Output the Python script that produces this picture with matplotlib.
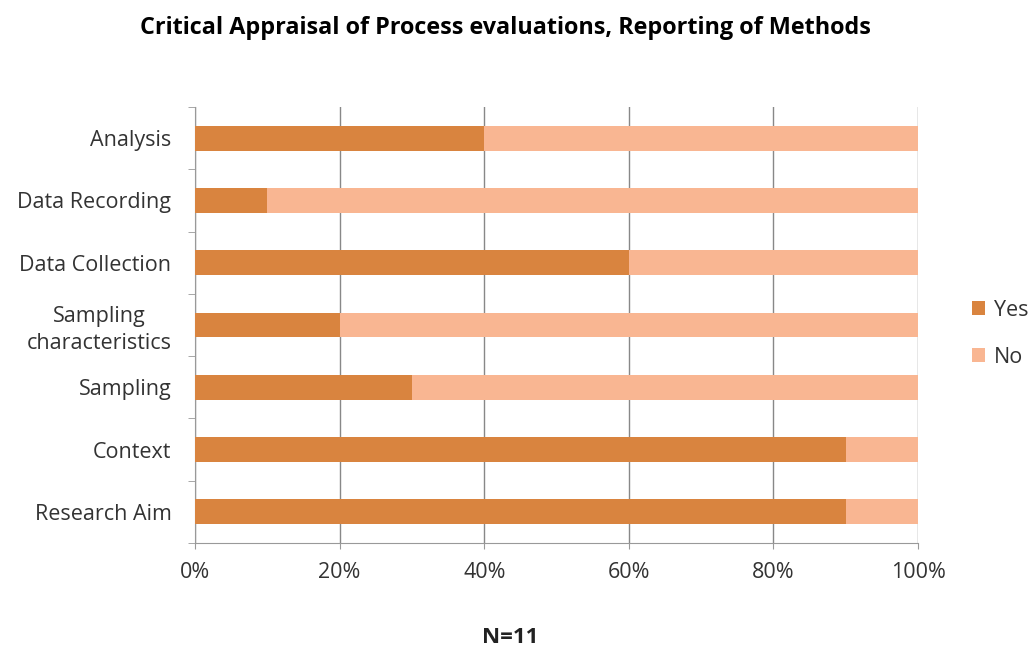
import matplotlib.pyplot as plt
import numpy as np

categories = ['Research Aim', 'Context', 'Sampling', 'Sampling\ncharacteristics',
              'Data Collection', 'Data Recording', 'Analysis']
yes_pct = [90, 90, 30, 20, 60, 10, 40]
no_pct = [10, 10, 70, 80, 40, 90, 60]
xticks = [0, 20, 40, 60, 80, 100]

yes_col = '#D9843F'
no_col = '#F9B692'
txt_col = '#333333'

plt.rcParams['font.family'] = ['Open Sans', 'DejaVu Sans']

fig = plt.figure(figsize=(10.32, 6.47), dpi=100)
ax = fig.add_axes([0.189, 0.1607, 0.7006, 0.674])

y = np.arange(len(categories))
ax.barh(y, yes_pct, height=0.4, color=yes_col, label='Yes', zorder=3)
ax.barh(y, no_pct, left=yes_pct, height=0.4, color=no_col, label='No', zorder=3)

ax.set_xlim(0, 100)
ax.set_ylim(-0.5, len(categories) - 0.5)
ax.set_xticks(xticks)
ax.set_xticklabels(['%d%%' % t for t in xticks], fontsize=15.5, color=txt_col)
ax.tick_params(axis='x', length=4, color='#999999', pad=10)

# category labels centred on bars, ticks on the boundaries
ax.set_yticks(y)
ax.set_yticklabels(categories, fontsize=15.5, color=txt_col, ha='right',
                   multialignment='center', linespacing=1.35)
ax.tick_params(axis='y', which='major', length=0, pad=17)
ax.set_yticks(np.arange(-0.5, len(categories)), minor=True)
ax.tick_params(axis='y', which='minor', length=5, color='#999999')

ax.grid(axis='x', color='#888888', linewidth=1, zorder=0)
for s in ['top', 'right']:
    ax.spines[s].set_visible(False)
for s in ['left', 'bottom']:
    ax.spines[s].set_color('#999999')

fig.text(0.49, 0.957, 'Critical Appraisal of Process evaluations, Reporting of Methods',
         ha='center', va='center', fontsize=16.8, fontweight='bold', color='black')
fig.text(0.494, 0.015, 'N=11', ha='center', va='center', fontsize=16,
         fontweight='bold', color='#222222')

leg = ax.legend(loc='center left', bbox_to_anchor=(1.075, 0.48), frameon=False,
                fontsize=15.5, handlelength=0.6, handleheight=0.6, labelspacing=1.2,
                handletextpad=0.4, borderpad=0, borderaxespad=0)
for t in leg.get_texts():
    t.set_color(txt_col)

fig.savefig('out.png', dpi=100)
